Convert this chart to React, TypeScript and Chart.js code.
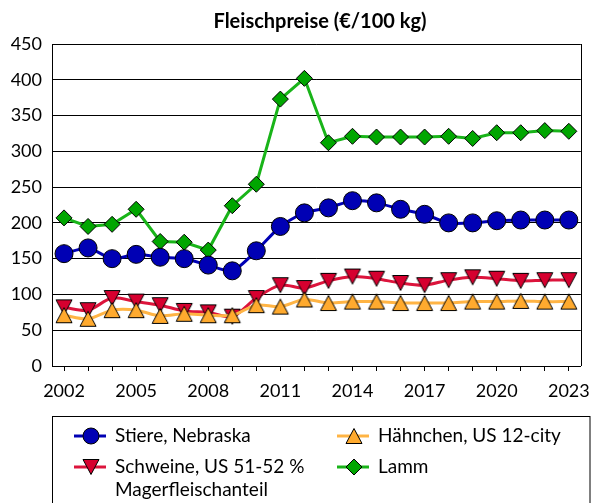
import React, { useEffect, useRef } from 'react';
import { Chart, registerables } from 'chart.js';
Chart.register(...registerables);

const years = ['2002','2003','2004','2005','2006','2007','2008','2009','2010','2011','2012','2013','2014','2015','2016','2017','2018','2019','2020','2021','2022','2023'];
const xTickLabels = ['2002','2005','2008','2011','2014','2017','2020','2023'];

const stiere = [157,165,150,156,152,150,141,133,161,195,214,221,231,228,219,212,200,200,203,204,204,204];
const schweine = [82,78,95,90,85,77,75,69,95,113,109,119,125,122,116,113,120,124,122,119,120,120];
const haehnchen = [71,66,78,78,70,73,71,71,85,83,93,88,90,90,88,88,88,90,90,91,90,90];
const lamm = [207,195,198,219,174,173,162,224,254,373,402,312,321,320,320,320,321,318,326,326,329,328];

const FONT = 'Lato, "Open Sans", sans-serif';

function makeTriangle(fill: string, down: boolean): HTMLCanvasElement {
  const c = document.createElement('canvas');
  c.width = 20; c.height = 20;
  const ctx = c.getContext('2d')!;
  ctx.beginPath();
  if (down) {
    ctx.moveTo(2, 2.5); ctx.lineTo(18, 2.5); ctx.lineTo(10, 17.5);
  } else {
    ctx.moveTo(2, 17.5); ctx.lineTo(18, 17.5); ctx.lineTo(10, 2.5);
  }
  ctx.closePath();
  ctx.fillStyle = fill; ctx.fill();
  ctx.strokeStyle = '#000'; ctx.lineWidth = 1; ctx.stroke();
  return c;
}

export default function App() {
  const ref = useRef<HTMLCanvasElement>(null);
  useEffect(() => {
    if (!ref.current) return;
    const triDown = makeTriangle('#D6002F', true);
    const triUp = makeTriangle('#FFAA2E', false);

    const frame = {
      id: 'frame',
      beforeDatasetsDraw(chart: any) {
        const { ctx, chartArea: a } = chart;
        ctx.save();
        ctx.strokeStyle = '#000'; ctx.lineWidth = 1;
        ctx.beginPath();
        const r = Math.round(a.right) + 0.5;
        ctx.moveTo(r, a.top); ctx.lineTo(r, a.bottom);
        ctx.stroke();
        ctx.restore();
      },
      afterDraw(chart: any) {
        const { ctx } = chart;
        ctx.save();
        // title
        ctx.fillStyle = '#000';
        ctx.font = `bold 20px ${FONT}`;
        ctx.textAlign = 'center'; ctx.textBaseline = 'middle';
        ctx.fillText('Fleischpreise (€/100 kg)', 320, 22);
        // legend box
        ctx.strokeStyle = '#000'; ctx.lineWidth = 1;
        ctx.strokeRect(52.5, 416.5, 537.5, 120);
        const slots = [
          { x: 74, y: 436 },
          { x: 74, y: 467 },
          { x: 337, y: 436 },
          { x: 337, y: 467 },
        ];
        ctx.font = `19px ${FONT}`;
        ctx.textAlign = 'left'; ctx.textBaseline = 'middle';
        chart.data.datasets.forEach((ds: any, i: number) => {
          const s = slots[i];
          ctx.strokeStyle = ds.borderColor; ctx.lineWidth = 3;
          ctx.beginPath(); ctx.moveTo(s.x, s.y); ctx.lineTo(s.x + 32, s.y); ctx.stroke();
          const mx = s.x + 17, my = s.y;
          ctx.lineWidth = 1; ctx.strokeStyle = '#000'; ctx.fillStyle = ds.pointBackgroundColor;
          if (ds.pointStyle === 'circle') {
            ctx.beginPath(); ctx.arc(mx, my, 8, 0, Math.PI * 2); ctx.fill(); ctx.stroke();
          } else if (ds.pointStyle === 'rectRot') {
            ctx.beginPath(); ctx.moveTo(mx, my - 8); ctx.lineTo(mx + 8, my); ctx.lineTo(mx, my + 8); ctx.lineTo(mx - 8, my); ctx.closePath(); ctx.fill(); ctx.stroke();
          } else {
            ctx.drawImage(ds.pointStyle, mx - 10, my - 10);
          }
          ctx.fillStyle = '#000';
          const words = String(ds.label).split(' ');
          const lines: string[] = [];
          let cur = '';
          for (const w of words) {
            const t = cur ? cur + ' ' + w : w;
            if (ctx.measureText(t).width > 205 && cur) { lines.push(cur); cur = w; } else cur = t;
          }
          if (cur) lines.push(cur);
          lines.forEach((ln, k) => ctx.fillText(ln, s.x + 41, s.y + k * 22.4));
        });
        ctx.restore();
      },
    };

    const chart = new Chart(ref.current, {
      type: 'line',
      data: {
        labels: years,
        datasets: [
          { label: 'Stiere, Nebraska', data: stiere, borderColor: '#0000B4', backgroundColor: '#0000B4', pointBackgroundColor: '#0000B4', pointBorderColor: '#000', pointBorderWidth: 1, pointStyle: 'circle', pointRadius: 9, borderWidth: 3, tension: 0.25, order: 2 },
          { label: 'Schweine, US 51-52 % Magerfleischanteil', data: schweine, borderColor: '#DC143C', backgroundColor: '#D6002F', pointBackgroundColor: '#D6002F', pointBorderColor: '#000', pointStyle: triDown as any, pointRadius: 10, borderWidth: 3, tension: 0.3, order: 1 },
          { label: 'Hähnchen, US 12-city', data: haehnchen, borderColor: '#FFB444', backgroundColor: '#FFAA2E', pointBackgroundColor: '#FFAA2E', pointBorderColor: '#000', pointStyle: triUp as any, pointRadius: 10, borderWidth: 3, tension: 0.3, order: 0 },
          { label: 'Lamm', data: lamm, borderColor: '#19B419', backgroundColor: '#00A600', pointBackgroundColor: '#00A600', pointBorderColor: '#000', pointBorderWidth: 1, pointStyle: 'rectRot', pointRadius: 8, borderWidth: 3, tension: 0, order: 3 },
        ],
      },
      options: {
        responsive: false,
        maintainAspectRatio: false,
        devicePixelRatio: 1,
        animation: false,
        layout: { padding: { top: 44, right: 7, bottom: 100, left: 0 } },
        plugins: { legend: { display: false }, title: { display: false }, tooltip: { enabled: false } },
        scales: {
          x: {
            type: 'category',
            offset: true,
            grid: { display: true, drawOnChartArea: false, drawTicks: true, tickLength: 5, color: '#000', lineWidth: 1 },
            border: { display: true, color: '#000', width: 1 },
            ticks: {
              autoSkip: false, maxRotation: 0, minRotation: 0, padding: 9, color: '#000',
              font: { family: FONT, size: 18 },
              callback: (_v: any, i: number) => (xTickLabels.includes(years[i]) ? years[i] : ''),
            },
            afterFit: (s: any) => { s.height = 37; },
          },
          y: {
            min: 0, max: 450,
            ticks: { stepSize: 50, padding: 10, color: '#000', font: { family: FONT, size: 18 } },
            grid: { color: '#000', lineWidth: 1, drawTicks: false },
            border: { display: true, color: '#000', width: 1 },
            afterFit: (s: any) => { s.width = 52; },
          },
        },
      },
      plugins: [frame],
    } as any);
    return () => chart.destroy();
  }, []);
  return (
    <div style={{ position: 'absolute', left: 0, top: 0, width: 599, height: 503 }}>
      <canvas ref={ref} width={599} height={503} style={{ display: 'block' }} />
    </div>
  );
}
